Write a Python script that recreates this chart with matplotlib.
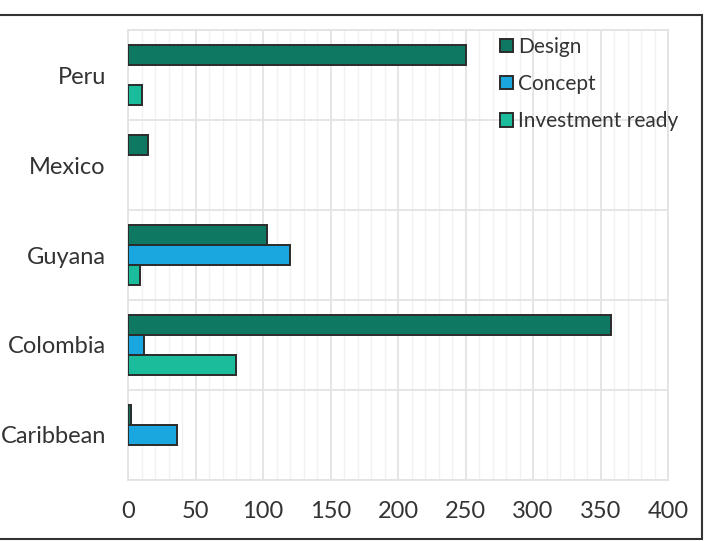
import numpy as np
import matplotlib.pyplot as plt
from matplotlib.patches import Rectangle
from matplotlib.ticker import MultipleLocator

plt.rcParams['font.family'] = ['Lato', 'DejaVu Sans']

countries = ["Caribbean", "Colombia", "Guyana", "Mexico", "Peru"]
design = [2, 358, 103, 15, 250]
concept = [36, 12, 120, 0, 0]
investment_ready = [0, 80, 9, 0, 10]

series = [("Design", design, "#0e7862"),
          ("Concept", concept, "#1aa7df"),
          ("Investment ready", investment_ready, "#1abc9c")]

fig = plt.figure(figsize=(7.05, 5.41), dpi=100)
ax = fig.add_axes([0.1816, 0.1128, 0.766, 0.8317])

y = np.arange(len(countries))
h = 0.222
offsets = [h, 0, -h]
for (name, vals, col), off in zip(series, offsets):
    vals = np.array(vals, dtype=float)
    mask = vals > 0
    ax.barh(y[mask] + off, vals[mask], height=h, color=col,
            edgecolor="#2b2b2b", linewidth=1.4, label=name, zorder=3)

ax.set_xlim(0, 400)
ax.set_ylim(-0.5, 4.5)
ax.xaxis.set_major_locator(MultipleLocator(50))
ax.xaxis.set_minor_locator(MultipleLocator(10))
ax.set_yticks(y)
ax.set_yticklabels(countries)
ax.set_yticks(np.arange(-0.5, 5, 1), minor=True)

ax.grid(which="major", axis="x", color="#e3e3e3", linewidth=1.3, zorder=0)
ax.grid(which="minor", axis="x", color="#f1f1f1", linewidth=1.0, zorder=0)
ax.grid(which="minor", axis="y", color="#e3e3e3", linewidth=1.3, zorder=0)

for s in ax.spines.values():
    s.set_color("#e3e3e3")
    s.set_linewidth(1.3)

ax.tick_params(axis="both", which="both", length=0, labelsize=17, colors="#333333")
ax.tick_params(axis="x", pad=15)
ax.tick_params(axis="y", pad=16)

leg = ax.legend(loc="upper left", bbox_to_anchor=(0.689, 0.959), bbox_transform=fig.transFigure,
                frameon=False, fontsize=15, handlelength=0.62, handleheight=0.62,
                handletextpad=0.25, labelspacing=0.83, borderpad=0.2)
for t in leg.get_texts():
    t.set_color("#333333")

fig.add_artist(Rectangle((-0.01, 0.0037), 1.0057, 0.9686, transform=fig.transFigure,
                         fill=False, edgecolor="#333333", linewidth=1.5))

fig.savefig("out.png", dpi=100)
